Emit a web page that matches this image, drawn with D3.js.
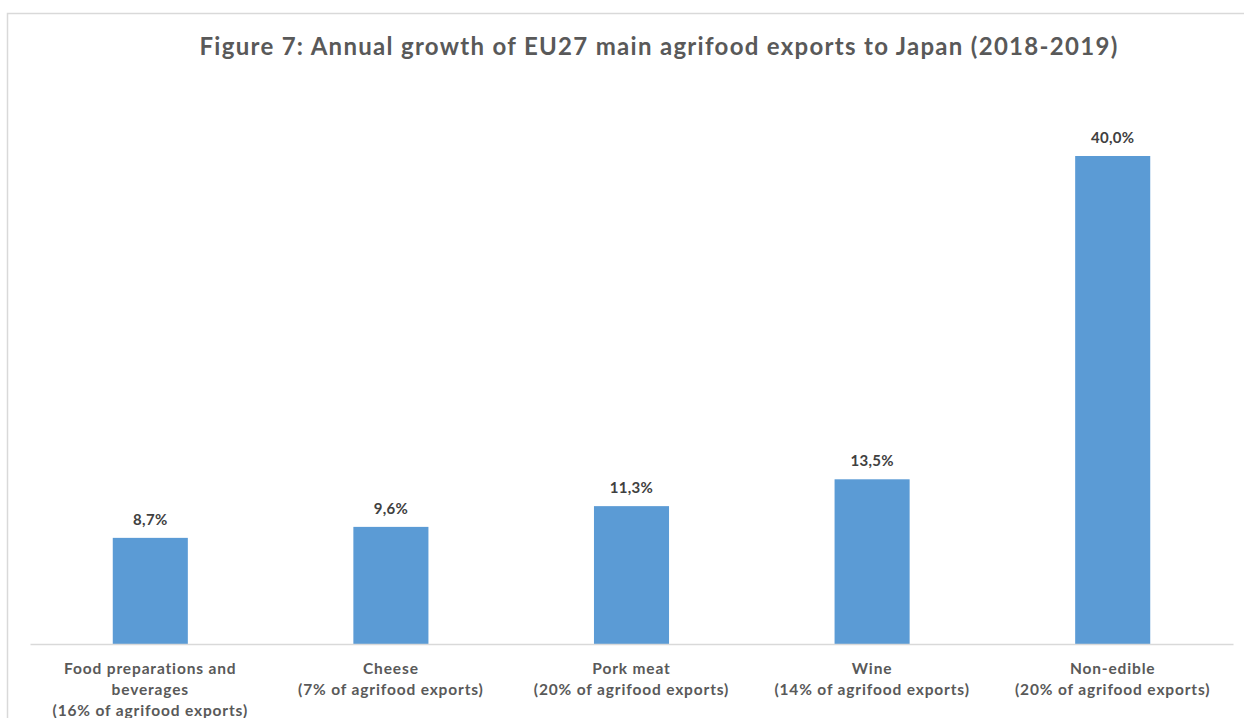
<!DOCTYPE html>
<html>
<head>
<meta charset="utf-8">
<script src="https://d3js.org/d3.v7.min.js"></script>
<style>
body { margin: 0; background: #fff; }
</style>
</head>
<body>
<svg width="1244" height="718"></svg>
<script>
var categories = ["Food preparations and beverages", "Cheese", "Pork meat", "Wine", "Non-edible"];
var labelLines = [
  ["Food preparations and", "beverages", "(16% of agrifood exports)"],
  ["Cheese", "(7% of agrifood exports)"],
  ["Pork meat", "(20% of agrifood exports)"],
  ["Wine", "(14% of agrifood exports)"],
  ["Non-edible", "(20% of agrifood exports)"]
];
var growth = [8.7, 9.6, 11.3, 13.5, 40.0];

var svg = d3.select("svg"),
    width = +svg.attr("width"),
    height = +svg.attr("height");

var font = "Lato, 'Open Sans', sans-serif";

// chart frame (only top and left edges fall inside the picture)
svg.append("path")
    .attr("d", "M7.5," + height + "V13.5H" + width)
    .attr("fill", "none")
    .attr("stroke", "#d9d9d9")
    .attr("stroke-width", 1.5);

svg.append("text")
    .attr("x", 659)
    .attr("y", 55)
    .attr("text-anchor", "middle")
    .attr("font-family", font)
    .attr("font-weight", "bold")
    .attr("font-size", 24)
    .attr("letter-spacing", 1.3)
    .attr("fill", "#595959")
    .text("Figure 7: Annual growth of EU27 main agrifood exports to Japan (2018-2019)");

var x = d3.scaleBand()
    .domain(categories)
    .range([30, 1233])
    .paddingInner(0.688)
    .paddingOuter(0.344);

var y = d3.scaleLinear()
    .domain([0, 40])
    .range([644, 156]);

var data = categories.map(function(c, i) { return {cat: c, v: growth[i], lines: labelLines[i]}; });

svg.selectAll("rect.bar")
  .data(data)
  .enter().append("rect")
    .attr("class", "bar")
    .attr("x", function(d) { return x(d.cat); })
    .attr("y", function(d) { return y(d.v); })
    .attr("width", x.bandwidth())
    .attr("height", function(d) { return y(0) - y(d.v); })
    .attr("fill", "#5b9bd5");

svg.selectAll("text.val")
  .data(data)
  .enter().append("text")
    .attr("class", "val")
    .attr("x", function(d) { return x(d.cat) + x.bandwidth() / 2; })
    .attr("y", function(d) { return y(d.v) - 13; })
    .attr("text-anchor", "middle")
    .attr("font-family", font)
    .attr("font-weight", "bold")
    .attr("font-size", 15)
    .attr("letter-spacing", 0.3)
    .attr("fill", "#404040")
    .text(function(d) { return d3.format(".1f")(d.v).replace(".", ",") + "%"; });

// x axis
var xAxis = svg.append("g")
    .attr("transform", "translate(0," + y(0) + ")")
    .call(d3.axisBottom(x).tickSize(0).tickFormat(""));
xAxis.select(".domain")
    .attr("stroke", "#d9d9d9")
    .attr("stroke-width", 1.5);

var lab = svg.selectAll("text.cat")
  .data(data)
  .enter().append("text")
    .attr("class", "cat")
    .attr("text-anchor", "middle")
    .attr("font-family", font)
    .attr("font-weight", "bold")
    .attr("font-size", 15.5)
    .attr("letter-spacing", 0.85)
    .attr("fill", "#595959");

lab.selectAll("tspan")
  .data(function(d) { return d.lines.map(function(l) { return {t: l, cx: x(d.cat) + x.bandwidth() / 2}; }); })
  .enter().append("tspan")
    .attr("x", function(d) { return d.cx; })
    .attr("y", function(d, i) { return 674 + i * 21; })
    .text(function(d) { return d.t; });
</script>
</body>
</html>
